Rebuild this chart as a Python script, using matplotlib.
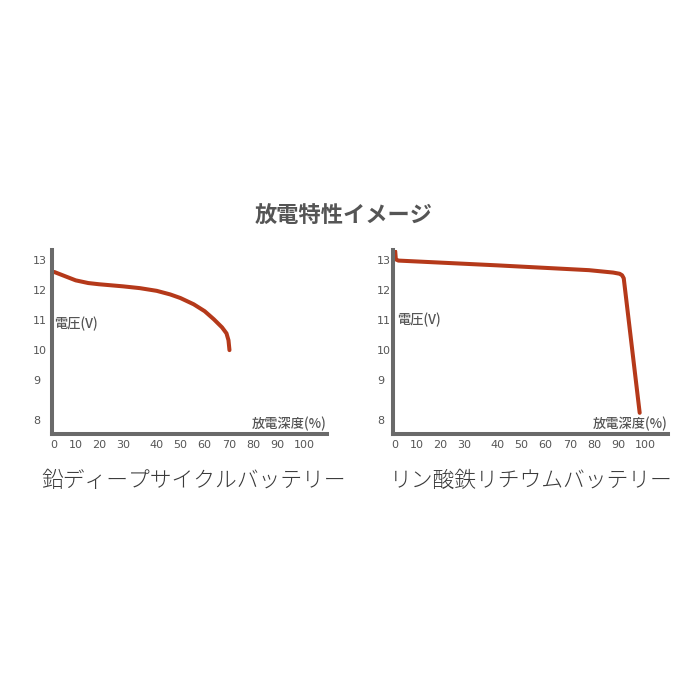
import numpy as np
import matplotlib
matplotlib.use('Agg')
import matplotlib.pyplot as plt

plt.rcParams['font.family'] = ['Noto Sans CJK JP', 'DejaVu Sans']

# data
dod_ticks = [0, 10, 20, 30, 40, 50, 60, 70, 80, 90, 100]
volt_ticks = [8, 9, 10, 11, 12, 13]

lead_dod = [0, 5, 10, 15.4, 20, 30, 35, 40, 45.7, 50, 55.5, 60, 63.7, 67, 68.8, 69.6, 70]
lead_volt = [12.61, 12.47, 12.33, 12.24, 12.2, 12.13, 12.07, 11.98, 11.86, 11.74,
             11.53, 11.3, 11.03, 10.76, 10.56, 10.33, 10.0]

lfp_dod = [0, 0.3, 1.5, 40, 77.9, 88, 90.6, 91.5, 92.1, 97.9]
lfp_volt = [13.3, 13.03, 12.99, 12.83, 12.67, 12.59, 12.55, 12.5, 12.4, 8.18]

title = '放電特性イメージ'
names = ['鉛ディープサイクルバッテリー', 'リン酸鉄リチウムバッテリー']
ylab = '電圧(V)'
xlab = '放電深度(%)'

# the original axes are not evenly spaced, so use a piecewise scale
x_vals = [-1.16] + dod_ticks + [110]
x_pos = [0, 2.5, 24, 47.3, 71.3, 105, 128.7, 153, 177.8, 201.3, 225.3, 252.8, 280.3]
y_vals = [7.65] + volt_ticks + [13.34]
y_pos = [0, 14, 54, 84, 114, 144, 174, 184.3]


def fx(v):
    return np.interp(v, x_vals, x_pos)


def fx_inv(p):
    return np.interp(p, x_pos, x_vals)


def fy(v):
    return np.interp(v, y_vals, y_pos)


def fy_inv(p):
    return np.interp(p, y_pos, y_vals)


line_col = '#b5391a'
axis_col = '#6a6a6a'
text_col = '#555555'

fig = plt.figure(figsize=(7, 7), dpi=100)

W, H = 700.0, 700.0
panels = [
    (51.7, lead_dod, lead_volt, 13.5, (0.008, 0.596)),
    (392.7, lfp_dod, lfp_volt, 11.3, (0.0145, 0.62)),
]

for i, (left_px, xd, yd, ypad, ylab_pos) in enumerate(panels):
    ax = fig.add_axes([left_px / W, 1 - 434 / H, 275.3 / W, 184 / H])
    ax.set_xscale('function', functions=(fx, fx_inv))
    ax.set_yscale('function', functions=(fy, fy_inv))
    ax.set_xlim(-1.16, 108.2)
    ax.set_ylim(7.65, 13.34)
    ax.plot(xd, yd, color=line_col, lw=2.9, solid_capstyle='round', solid_joinstyle='round')

    for s in ['top', 'right']:
        ax.spines[s].set_visible(False)
    for s in ['left', 'bottom']:
        ax.spines[s].set_color(axis_col)
        ax.spines[s].set_linewidth(2.9)

    ax.set_xticks(dod_ticks)
    ax.set_xticklabels([str(t) for t in dod_ticks], family='DejaVu Sans')
    ax.set_yticks(volt_ticks)
    ax.set_yticklabels([str(t) for t in volt_ticks], family='DejaVu Sans')
    ax.xaxis.set_minor_locator(plt.NullLocator())
    ax.yaxis.set_minor_locator(plt.NullLocator())
    ax.tick_params(axis='x', length=0, pad=4.5, labelsize=8, labelcolor=text_col)
    ax.tick_params(axis='y', length=0, pad=ypad, labelsize=8, labelcolor=text_col)
    for lb in ax.get_yticklabels():
        lb.set_horizontalalignment('left')

    ax.text(ylab_pos[0], ylab_pos[1], ylab, transform=ax.transAxes, ha='left', va='center',
            fontsize=9.5, fontweight='medium', color=text_col)
    ax.text(0.999, 0.053, xlab, transform=ax.transAxes, ha='right', va='center',
            fontsize=9.5, fontweight='medium', color=text_col)

fig.text(344 / W, 1 - 216.7 / H, title, ha='center', va='center', fontsize=16,
         fontweight='bold', color='#555555')
fig.text(194 / W, 1 - 481 / H, names[0], ha='center', va='center', fontsize=15.7,
         fontweight='light', color='#3a3a3a')
fig.text(531 / W, 1 - 481 / H, names[1], ha='center', va='center', fontsize=15.7,
         fontweight='light', color='#3a3a3a')

fig.savefig('out.png', dpi=100, facecolor='white')
